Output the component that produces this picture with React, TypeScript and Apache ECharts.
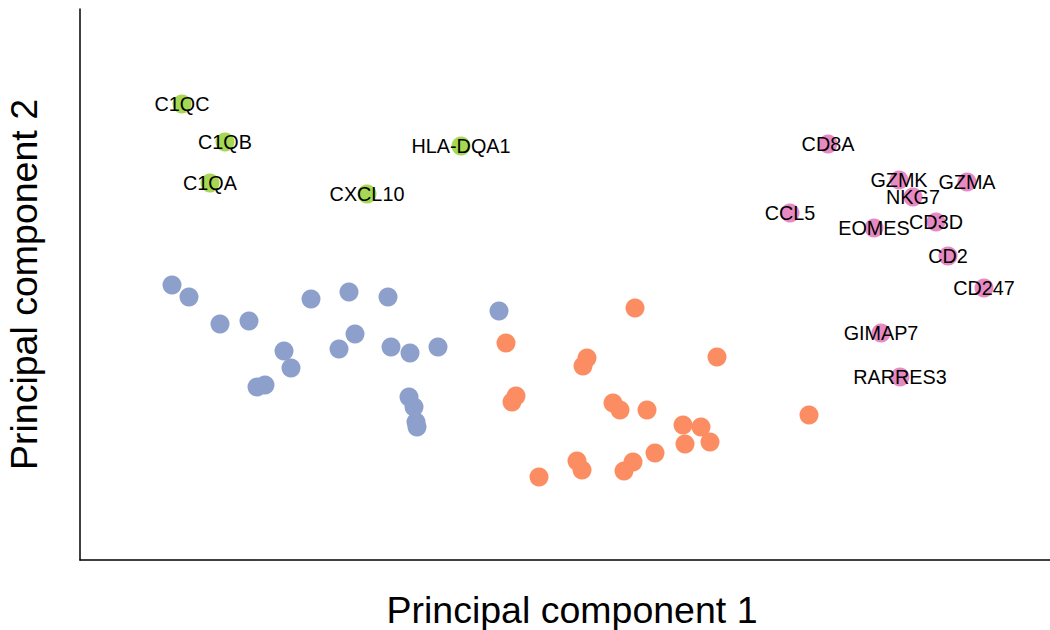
import React, { useEffect, useRef } from "react";
import * as echarts from "echarts";

// Principal component coordinates (PC1, PC2)
const greenNames = ["C1QC", "C1QB", "C1QA", "HLA-DQA1", "CXCL10"];
const greenX = [10.2, 14.5, 13.0, 38.1, 28.7];
const greenY = [45.6, 41.8, 37.7, 41.4, 36.6];

const pinkNames = ["CD8A", "GZMK", "GZMA", "NKG7", "CCL5", "CD3D", "EOMES", "CD2", "CD247", "GIMAP7", "RARRES3"];
const pinkX = [74.8, 81.9, 88.7, 83.3, 71.0, 85.6, 79.4, 86.8, 90.4, 80.1, 82.0];
const pinkY = [41.6, 38.0, 37.8, 36.3, 34.7, 33.8, 33.2, 30.4, 27.2, 22.7, 18.3];

const blueX = [9.2, 10.9, 14.0, 16.9, 20.4, 21.1, 17.7, 18.5, 23.1, 26.9, 30.8, 27.5, 25.9, 31.1, 33.0, 35.8, 32.9, 33.4, 33.6, 33.7, 41.9];
const blueY = [27.5, 26.3, 23.6, 23.9, 20.9, 19.2, 17.3, 17.5, 26.1, 26.8, 26.3, 22.6, 21.1, 21.3, 20.7, 21.3, 16.3, 15.3, 13.8, 13.3, 24.9];

const orangeX = [55.5, 42.6, 63.7, 50.7, 50.3, 43.6, 43.2, 53.3, 54.0, 56.7, 72.9, 60.3, 62.1, 60.5, 63.0, 57.5, 49.7, 50.2, 55.3, 54.4, 45.9];
const orangeY = [25.2, 21.7, 20.3, 20.2, 19.4, 16.4, 15.8, 15.7, 15.0, 15.0, 14.5, 13.5, 13.3, 11.6, 11.8, 10.7, 9.9, 9.0, 9.8, 8.9, 8.3];

const xTitle = "Principal component 1";
const yTitle = "Principal component 2";

const FONT = "'Liberation Sans', Arial, Helvetica, sans-serif";

function pts(xs: number[], ys: number[], names?: string[]) {
  return xs.map((x, i) => (names ? { name: names[i], value: [x, ys[i]] } : [x, ys[i]]));
}

export default function App() {
  const ref = useRef<HTMLDivElement>(null);
  useEffect(() => {
    if (!ref.current) return;
    const chart = echarts.init(ref.current, undefined, { renderer: "svg" });
    const labelCfg = {
      show: true,
      position: "inside",
      formatter: "{b}",
      color: "#000",
      fontSize: 19.8,
      fontFamily: FONT,
    };
    const axisCommon = {
      type: "value",
      axisLine: { show: true, onZero: false, lineStyle: { color: "#000", width: 1.5 } },
      axisTick: { show: false },
      axisLabel: { show: false },
      splitLine: { show: false },
      nameLocation: "middle",
      nameTextStyle: { color: "#000", fontSize: 37.5, fontFamily: FONT },
    };
    chart.setOption({
      animation: false,
      backgroundColor: "#fff",
      grid: {
        left: 80,
        right: 0,
        top: 9,
        bottom: 70,
        containLabel: false,
        outerBoundsMode: "none",
      },
      xAxis: {
        ...axisCommon,
        min: 0,
        max: 97,
        name: xTitle,
        nameGap: 31,
        nameTextStyle: { ...axisCommon.nameTextStyle, padding: [0, 0, 0, 14] },
      },
      yAxis: { ...axisCommon, min: 0, max: 55.1, name: yTitle, nameGap: 37, nameRotate: 90 },
      series: [
        {
          type: "scatter",
          symbolSize: 19,
          itemStyle: { color: "#8DA0CB", opacity: 1 },
          data: pts(blueX, blueY),
        },
        {
          type: "scatter",
          symbolSize: 19,
          itemStyle: { color: "#FC8D62", opacity: 1 },
          data: pts(orangeX, orangeY),
        },
        {
          type: "scatter",
          symbolSize: 19,
          itemStyle: { color: "#A6D854", opacity: 1 },
          label: labelCfg,
          data: pts(greenX, greenY, greenNames),
        },
        {
          type: "scatter",
          symbolSize: 19,
          itemStyle: { color: "#E78AC3", opacity: 1 },
          label: labelCfg,
          labelLayout: { hideOverlap: false },
          data: pts(pinkX, pinkY, pinkNames),
        },
      ],
    });
    return () => chart.dispose();
  }, []);
  return (
    <div
      ref={ref}
      style={{ position: "fixed", left: 0, top: 0, width: 1050, height: 630, background: "#fff" }}
    />
  );
}
